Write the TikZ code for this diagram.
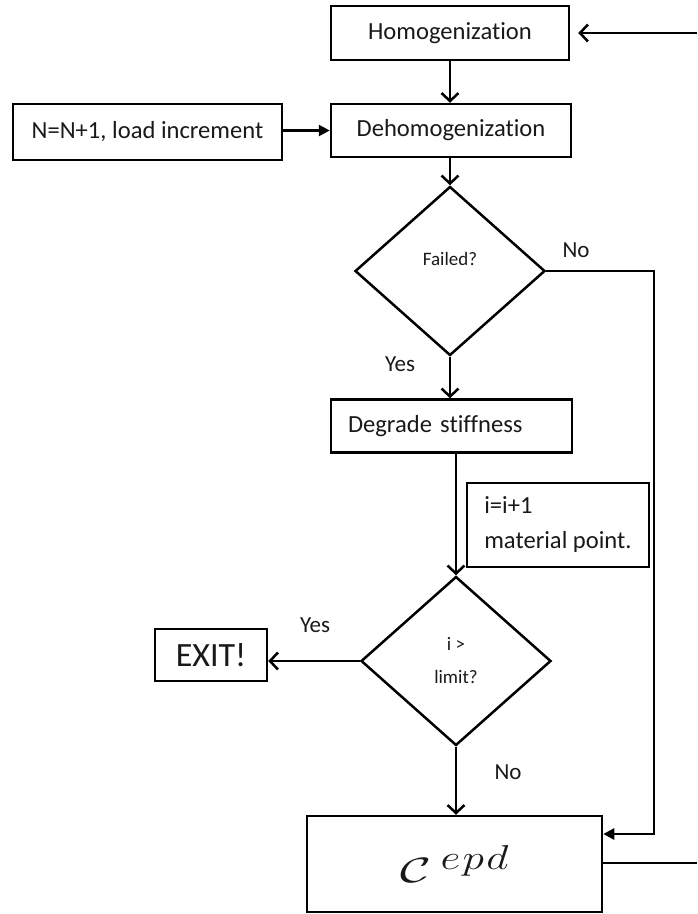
\documentclass[tikz,border=0pt]{standalone}
\usepackage{fontspec}
\usepackage{graphicx}
\setmainfont{Carlito}[Ligatures=NoCommon]
\usetikzlibrary{shapes.geometric,arrows.meta}
\begin{document}
\begin{tikzpicture}[x=1pt,y=-1pt,
  every node/.style={font=\fontsize{24.6}{29}\selectfont,text=black!90},
  proc/.style={draw,line width=2.5pt,inner sep=0pt},
  decision/.style={draw,diamond,line width=2.5pt,inner sep=0pt,
    minimum width=190pt,minimum height=169pt},
  conn/.style={line width=2.5pt},
  openarr/.style={conn,-{Straight Barb[length=8pt,width=17pt]}},
  fillarr/.style={conn,-{Triangle[length=11pt,width=11pt]}},
  lbl/.style={font=\fontsize{23}{27}\selectfont},
  small/.style={font=\fontsize{19}{33}\selectfont}]
\useasboundingbox (0,0) rectangle (697,914);

% process boxes
\node[proc,minimum width=238pt,minimum height=54pt] (homog) at (450,33) {Homogenization};
\node[proc,minimum width=240pt,minimum height=53pt] (dehomog) at (451,130.5) {Dehomogenization};
\node[proc,minimum width=269pt,minimum height=56pt] (load) at (147.5,132) {N=N+1, load increment};
\node[proc,minimum height=53pt,text width=207pt,align=left,inner xsep=17pt] (degrade) at (451.5,426) {Degrade stiffness};
\node[proc,minimum width=182pt,minimum height=84pt,align=left,
  font=\fontsize{24.6}{35}\selectfont] (incr) at (558,525) {i=i+1\\material point.};
\node[proc,minimum width=112pt,minimum height=52pt,
  font=\fontsize{34}{40}\selectfont] (exit) at (211,655) {EXIT!};
\node[proc,minimum width=295pt,minimum height=96pt] (cbox) at (454.5,864)
  {\resizebox{31pt}{24pt}{$\mathcal{C}$}\hspace{9pt}%
   \raisebox{13pt}{\resizebox{68pt}{24pt}{$e\mkern1mu p\mkern1mu d$}}};

% decisions
\node[decision,label={[small,yshift=12pt]center:Failed?}] (failed) at (450,271) {};
\node[decision,small,align=center] (limit) at (456,661) {i >\\limit?};

% free ends of the loop-back lines
\coordinate (inr) at (697,33);
\coordinate (outr) at (697,863);
\coordinate (rt) at (654,834);

% connectors
\draw[openarr] (homog.south) -- (homog.south |- dehomog.north);
\draw[fillarr] (load.east |- dehomog.west) -- (dehomog.west);
\draw[openarr] (failed.north |- dehomog.south) -- (failed.north);
\draw[openarr] (failed.south) -- (failed.south |- degrade.north);
\draw[openarr] (limit.north |- degrade.south) -- (limit.north);
\draw[openarr] (limit.west) -- (limit.west -| exit.east);
\draw[openarr] (limit.south) -- (limit.south |- cbox.north);
\draw[fillarr] (failed.east) -| (rt) -- (rt -| cbox.east);
\draw[conn] (cbox.east |- outr) -- (outr);
\draw[openarr,shorten >=8pt] (inr) -- (homog.east);

% branch labels
\node[lbl] (no1) at (576,250) {No};
\node[lbl] (yes1) at (400,364) {Yes};
\node[lbl] (yes2) at (315,625) {Yes};
\node[lbl] (no2) at (508,772) {No};
\end{tikzpicture}
\end{document}
